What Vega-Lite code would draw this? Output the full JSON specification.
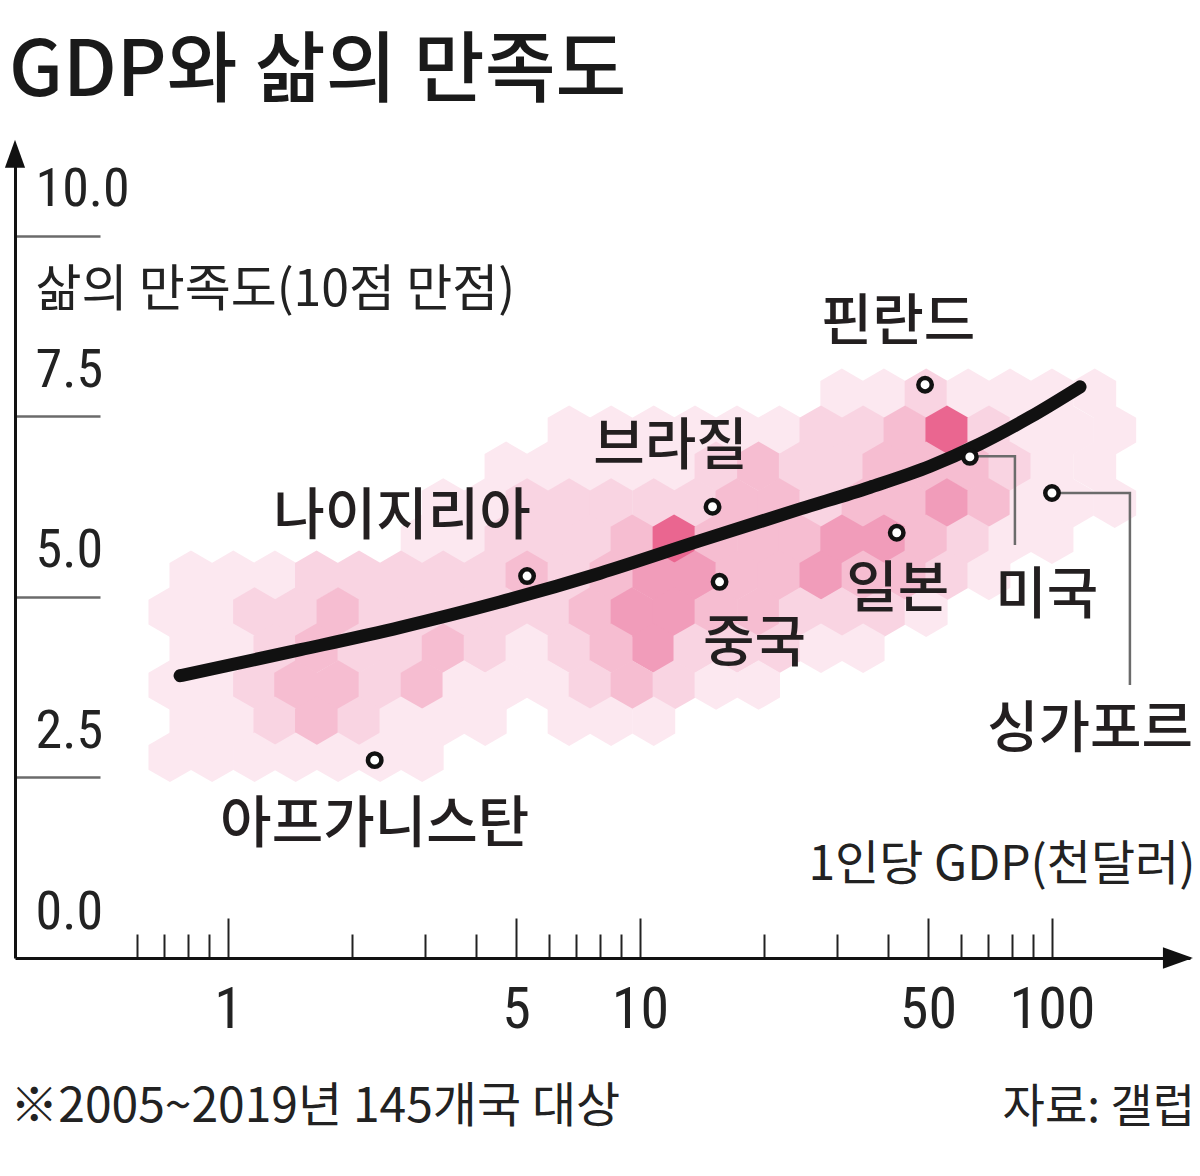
{
  "$schema": "https://vega.github.io/schema/vega-lite/v6.json",
  "width": 1175,
  "height": 813,
  "autosize": {"type": "none"},
  "padding": {"left": 15, "top": 145, "right": 10, "bottom": 218},
  "background": "white",
  "config": {"view": {"stroke": null}, "font": "Noto Sans CJK KR"},
  "title": {"text": "GDP와 삶의 만족도", "anchor": "start", "frame": "group", "fontSize": 77, "fontWeight": 500, "font": "Noto Sans CJK KR", "color": "#1a1a1a", "offset": 28, "dx": -6},
  "datasets": {
    "hex": [
      {"gdp":30.9,"satisfaction":7.82,"density":1},{"gdp":39.1,"satisfaction":7.82,"density":1},{"gdp":49.5,"satisfaction":7.82,"density":2},{"gdp":62.6,"satisfaction":7.82,"density":1},{"gdp":79.1,"satisfaction":7.82,"density":1},{"gdp":100,"satisfaction":7.82,"density":1},{"gdp":127,"satisfaction":7.82,"density":1},
      {"gdp":6.73,"satisfaction":7.31,"density":1},{"gdp":8.51,"satisfaction":7.31,"density":1},{"gdp":10.8,"satisfaction":7.31,"density":1},{"gdp":13.6,"satisfaction":7.31,"density":1},{"gdp":17.2,"satisfaction":7.31,"density":1},{"gdp":21.8,"satisfaction":7.31,"density":1},{"gdp":27.5,"satisfaction":7.31,"density":2},{"gdp":34.8,"satisfaction":7.31,"density":2},{"gdp":44.0,"satisfaction":7.31,"density":3},{"gdp":55.6,"satisfaction":7.31,"density":5},{"gdp":70.3,"satisfaction":7.31,"density":2},{"gdp":89.0,"satisfaction":7.31,"density":1},{"gdp":112,"satisfaction":7.31,"density":1},{"gdp":142,"satisfaction":7.31,"density":1},
      {"gdp":4.73,"satisfaction":6.81,"density":1},{"gdp":5.98,"satisfaction":6.81,"density":1},{"gdp":7.57,"satisfaction":6.81,"density":1},{"gdp":9.57,"satisfaction":6.81,"density":1},{"gdp":12.1,"satisfaction":6.81,"density":1},{"gdp":15.3,"satisfaction":6.81,"density":2},{"gdp":19.4,"satisfaction":6.81,"density":3},{"gdp":24.5,"satisfaction":6.81,"density":2},{"gdp":30.9,"satisfaction":6.81,"density":2},{"gdp":39.1,"satisfaction":6.81,"density":3},{"gdp":49.5,"satisfaction":6.81,"density":3},{"gdp":62.6,"satisfaction":6.81,"density":3},{"gdp":79.1,"satisfaction":6.81,"density":2},{"gdp":100,"satisfaction":6.81,"density":1},{"gdp":127,"satisfaction":6.81,"density":1},
      {"gdp":3.33,"satisfaction":6.30,"density":1},{"gdp":4.21,"satisfaction":6.30,"density":1},{"gdp":5.32,"satisfaction":6.30,"density":2},{"gdp":6.73,"satisfaction":6.30,"density":2},{"gdp":8.51,"satisfaction":6.30,"density":2},{"gdp":10.8,"satisfaction":6.30,"density":2},{"gdp":13.6,"satisfaction":6.30,"density":2},{"gdp":17.2,"satisfaction":6.30,"density":3},{"gdp":21.8,"satisfaction":6.30,"density":3},{"gdp":27.5,"satisfaction":6.30,"density":2},{"gdp":34.8,"satisfaction":6.30,"density":3},{"gdp":44.0,"satisfaction":6.30,"density":3},{"gdp":55.6,"satisfaction":6.30,"density":4},{"gdp":70.3,"satisfaction":6.30,"density":3},{"gdp":89.0,"satisfaction":6.30,"density":1},{"gdp":112,"satisfaction":6.30,"density":1},{"gdp":142,"satisfaction":6.30,"density":1},
      {"gdp":2.96,"satisfaction":5.80,"density":1},{"gdp":3.74,"satisfaction":5.80,"density":1},{"gdp":4.73,"satisfaction":5.80,"density":2},{"gdp":5.98,"satisfaction":5.80,"density":2},{"gdp":7.57,"satisfaction":5.80,"density":2},{"gdp":9.57,"satisfaction":5.80,"density":3},{"gdp":12.1,"satisfaction":5.80,"density":5},{"gdp":15.3,"satisfaction":5.80,"density":3},{"gdp":19.4,"satisfaction":5.80,"density":3},{"gdp":24.5,"satisfaction":5.80,"density":3},{"gdp":30.9,"satisfaction":5.80,"density":4},{"gdp":39.1,"satisfaction":5.80,"density":4},{"gdp":49.5,"satisfaction":5.80,"density":3},{"gdp":62.6,"satisfaction":5.80,"density":2},{"gdp":79.1,"satisfaction":5.80,"density":1},{"gdp":100,"satisfaction":5.80,"density":1},
      {"gdp":0.813,"satisfaction":5.30,"density":1},{"gdp":1.03,"satisfaction":5.30,"density":1},{"gdp":1.30,"satisfaction":5.30,"density":1},{"gdp":1.64,"satisfaction":5.30,"density":2},{"gdp":2.08,"satisfaction":5.30,"density":2},{"gdp":2.63,"satisfaction":5.30,"density":2},{"gdp":3.33,"satisfaction":5.30,"density":2},{"gdp":4.21,"satisfaction":5.30,"density":2},{"gdp":5.32,"satisfaction":5.30,"density":3},{"gdp":6.73,"satisfaction":5.30,"density":2},{"gdp":8.51,"satisfaction":5.30,"density":3},{"gdp":10.8,"satisfaction":5.30,"density":4},{"gdp":13.6,"satisfaction":5.30,"density":4},{"gdp":17.2,"satisfaction":5.30,"density":3},{"gdp":21.8,"satisfaction":5.30,"density":3},{"gdp":27.5,"satisfaction":5.30,"density":4},{"gdp":34.8,"satisfaction":5.30,"density":3},{"gdp":44.0,"satisfaction":5.30,"density":3},{"gdp":55.6,"satisfaction":5.30,"density":2},{"gdp":70.3,"satisfaction":5.30,"density":1},
      {"gdp":0.723,"satisfaction":4.79,"density":1},{"gdp":0.915,"satisfaction":4.79,"density":1},{"gdp":1.16,"satisfaction":4.79,"density":2},{"gdp":1.46,"satisfaction":4.79,"density":2},{"gdp":1.85,"satisfaction":4.79,"density":3},{"gdp":2.34,"satisfaction":4.79,"density":2},{"gdp":2.96,"satisfaction":4.79,"density":2},{"gdp":3.74,"satisfaction":4.79,"density":2},{"gdp":4.73,"satisfaction":4.79,"density":2},{"gdp":5.98,"satisfaction":4.79,"density":2},{"gdp":7.57,"satisfaction":4.79,"density":3},{"gdp":9.57,"satisfaction":4.79,"density":4},{"gdp":12.1,"satisfaction":4.79,"density":4},{"gdp":15.3,"satisfaction":4.79,"density":3},{"gdp":19.4,"satisfaction":4.79,"density":3},{"gdp":24.5,"satisfaction":4.79,"density":2},{"gdp":30.9,"satisfaction":4.79,"density":2},{"gdp":39.1,"satisfaction":4.79,"density":2},{"gdp":49.5,"satisfaction":4.79,"density":1},
      {"gdp":0.813,"satisfaction":4.29,"density":1},{"gdp":1.03,"satisfaction":4.29,"density":1},{"gdp":1.30,"satisfaction":4.29,"density":2},{"gdp":1.64,"satisfaction":4.29,"density":3},{"gdp":2.08,"satisfaction":4.29,"density":2},{"gdp":2.63,"satisfaction":4.29,"density":2},{"gdp":3.33,"satisfaction":4.29,"density":3},{"gdp":4.21,"satisfaction":4.29,"density":2},{"gdp":5.32,"satisfaction":4.29,"density":1},{"gdp":6.73,"satisfaction":4.29,"density":2},{"gdp":8.51,"satisfaction":4.29,"density":3},{"gdp":10.8,"satisfaction":4.29,"density":4},{"gdp":13.6,"satisfaction":4.29,"density":2},{"gdp":17.2,"satisfaction":4.29,"density":2},{"gdp":21.8,"satisfaction":4.29,"density":2},{"gdp":27.5,"satisfaction":4.29,"density":1},{"gdp":34.8,"satisfaction":4.29,"density":1},
      {"gdp":0.723,"satisfaction":3.78,"density":1},{"gdp":0.915,"satisfaction":3.78,"density":1},{"gdp":1.16,"satisfaction":3.78,"density":2},{"gdp":1.46,"satisfaction":3.78,"density":3},{"gdp":1.85,"satisfaction":3.78,"density":3},{"gdp":2.34,"satisfaction":3.78,"density":2},{"gdp":2.96,"satisfaction":3.78,"density":3},{"gdp":3.74,"satisfaction":3.78,"density":1},{"gdp":4.73,"satisfaction":3.78,"density":1},{"gdp":5.98,"satisfaction":3.78,"density":1},{"gdp":7.57,"satisfaction":3.78,"density":2},{"gdp":9.57,"satisfaction":3.78,"density":3},{"gdp":12.1,"satisfaction":3.78,"density":2},{"gdp":15.3,"satisfaction":3.78,"density":1},{"gdp":19.4,"satisfaction":3.78,"density":1},
      {"gdp":0.813,"satisfaction":3.28,"density":1},{"gdp":1.03,"satisfaction":3.28,"density":1},{"gdp":1.30,"satisfaction":3.28,"density":2},{"gdp":1.64,"satisfaction":3.28,"density":3},{"gdp":2.08,"satisfaction":3.28,"density":2},{"gdp":2.63,"satisfaction":3.28,"density":1},{"gdp":3.33,"satisfaction":3.28,"density":1},{"gdp":4.21,"satisfaction":3.28,"density":1},{"gdp":6.73,"satisfaction":3.28,"density":1},{"gdp":8.51,"satisfaction":3.28,"density":1},{"gdp":10.8,"satisfaction":3.28,"density":1},
      {"gdp":0.723,"satisfaction":2.78,"density":1},{"gdp":0.915,"satisfaction":2.78,"density":1},{"gdp":1.16,"satisfaction":2.78,"density":1},{"gdp":1.46,"satisfaction":2.78,"density":1},{"gdp":1.85,"satisfaction":2.78,"density":1},{"gdp":2.34,"satisfaction":2.78,"density":1},{"gdp":2.96,"satisfaction":2.78,"density":1}
    ],
    "trend": [
      {"gdp":0.765,"satisfaction":3.91},{"gdp":1.50,"satisfaction":4.27},{"gdp":2.62,"satisfaction":4.58},{"gdp":4.57,"satisfaction":4.93},{"gdp":8.0,"satisfaction":5.33},{"gdp":14.0,"satisfaction":5.78},{"gdp":24.5,"satisfaction":6.22},{"gdp":36.2,"satisfaction":6.52},{"gdp":50.6,"satisfaction":6.81},{"gdp":66.9,"satisfaction":7.12},{"gdp":88.4,"satisfaction":7.49},{"gdp":117,"satisfaction":7.91}
    ],
    "countries": [
      {"country":"아프가니스탄","gdp":2.27,"satisfaction":2.74},
      {"country":"나이지리아","gdp":5.32,"satisfaction":5.29},
      {"country":"브라질","gdp":15.0,"satisfaction":6.25},
      {"country":"중국","gdp":15.6,"satisfaction":5.21},
      {"country":"일본","gdp":42.0,"satisfaction":5.89},
      {"country":"핀란드","gdp":49.2,"satisfaction":7.94},
      {"country":"미국","gdp":63.2,"satisfaction":6.94},
      {"country":"싱가포르","gdp":100,"satisfaction":6.44}
    ],
    "leaders": [
      {"country":"미국","seq":1,"gdp":63.2,"satisfaction":6.95},
      {"country":"미국","seq":2,"gdp":81.3,"satisfaction":6.95},
      {"country":"미국","seq":3,"gdp":81.3,"satisfaction":5.72},
      {"country":"싱가포르","seq":1,"gdp":100,"satisfaction":6.44},
      {"country":"싱가포르","seq":2,"gdp":154.6,"satisfaction":6.44},
      {"country":"싱가포르","seq":3,"gdp":154.6,"satisfaction":3.78}
    ],
    "arrows": [
      {"axis":"y","gdp":0.30407,"satisfaction":11.14},
      {"axis":"x","gdp":202.2,"satisfaction":0}
    ],
    "notes": [
      {"side":"left","note":"※2005~2019년 145개국 대상","gdp":0.2961,"satisfaction":-2.08},
      {"side":"right","note":"자료: 갤럽","gdp":222.4,"satisfaction":-2.08}
    ]
  },
  "encoding": {
    "x": {
      "field": "gdp", "type": "quantitative",
      "scale": {"type": "log", "domain": [0.30407, 216.3], "nice": false},
      "axis": {
        "title": "1인당 GDP(천달러)", "titleX": 1180, "titleY": -93, "titleAlign": "right", "titleBaseline": "middle", "titleAnchor": null,
        "titleFontSize": 48, "titleFontWeight": "normal", "titleFont": "Noto Sans CJK KR", "titleColor": "#222",
        "values": [0.6,0.7,0.8,0.9,1,2,3,4,5,6,7,8,9,10,20,30,40,50,60,70,80,90,100],
        "labelExpr": "indexof([1,5,10,50,100], datum.value) >= 0 ? datum.label : ''",
        "format": "d",
        "tickSize": {"condition": {"test": "indexof([1,5,10,50,100], datum.value) >= 0", "value": -40}, "value": -24},
        "tickColor": "#222", "tickWidth": 2,
        "domainColor": "#111", "domainWidth": 3,
        "labelFont": "Roboto Condensed, DejaVu Sans Condensed, Roboto, sans-serif", "labelFontSize": 58, "labelColor": "#222",
        "labelPadding": 92, "labelBaseline": "middle",
        "labelOverlap": false, "labelFlush": false, "labelBound": false,
        "grid": false
      }
    },
    "y": {
      "field": "satisfaction", "type": "quantitative",
      "scale": {"domain": [0, 11.26], "nice": false, "zero": false},
      "axis": {
        "title": "삶의 만족도(10점 만점)", "titleAngle": 0, "titleAlign": "left", "titleBaseline": "middle", "titleX": 20, "titleY": 145, "titleAnchor": null,
        "titleFontSize": 50, "titleFontWeight": "normal", "titleFont": "Noto Sans CJK KR", "titleColor": "#222",
        "values": [0, 2.5, 5, 7.5, 10], "format": ".1f",
        "tickSize": -85, "tickColor": "#6b6b6b", "tickWidth": 2.5,
        "tickOpacity": {"condition": {"test": "datum.value == 0", "value": 0}, "value": 1},
        "domainColor": "#111", "domainWidth": 3,
        "labelFont": "Roboto Condensed, DejaVu Sans Condensed, Roboto, sans-serif", "labelFontSize": 54, "labelColor": "#222",
        "labelAlign": "left", "labelBaseline": "middle", "labelPadding": 65, "labelOffset": -46,
        "labelOverlap": false, "labelFlush": false, "labelBound": false,
        "grid": false
      }
    }
  },
  "layer": [
    {
      "data": {"name": "hex"},
      "mark": {"type": "point", "shape": "M0,-1L0.866,-0.5L0.866,0.5L0,1L-0.866,0.5L-0.866,-0.5Z", "filled": true, "size": 2460, "opacity": 1},
      "encoding": {
        "color": {"field": "density", "type": "ordinal", "scale": {"domain": [1,2,3,4,5], "range": ["#fce8f0", "#f9d4e2", "#f6bdd1", "#f19cba", "#ea6690"]}, "legend": null}
      }
    },
    {
      "data": {"name": "trend"},
      "mark": {"type": "line", "color": "#111", "strokeWidth": 13, "strokeCap": "round", "interpolate": "monotone"},
      "encoding": {}
    },
    {
      "data": {"name": "leaders"},
      "mark": {"type": "line", "color": "#6b6b6b", "strokeWidth": 2.5},
      "encoding": {"detail": {"field": "country"}, "order": {"field": "seq"}}
    },
    {
      "data": {"name": "countries"},
      "mark": {"type": "point", "shape": "circle", "filled": true, "fill": "white", "stroke": "#111", "strokeWidth": 4.5, "size": 180, "opacity": 1}
    },
    {"data": {"name": "countries"}, "transform": [{"filter": "datum.country == '아프가니스탄'"}], "mark": {"type": "text", "fontSize": 56, "fontWeight": 500, "color": "#231f20", "baseline": "middle", "align": "center", "dx": 0, "dy": 65}, "encoding": {"text": {"field": "country"}}},
    {"data": {"name": "countries"}, "transform": [{"filter": "datum.country == '나이지리아'"}], "mark": {"type": "text", "fontSize": 56, "fontWeight": 500, "color": "#231f20", "baseline": "middle", "align": "center", "dx": -125, "dy": -59}, "encoding": {"text": {"field": "country"}}},
    {"data": {"name": "countries"}, "transform": [{"filter": "datum.country == '브라질'"}], "mark": {"type": "text", "fontSize": 56, "fontWeight": 500, "color": "#231f20", "baseline": "middle", "align": "center", "dx": -42, "dy": -60}, "encoding": {"text": {"field": "country"}}},
    {"data": {"name": "countries"}, "transform": [{"filter": "datum.country == '중국'"}], "mark": {"type": "text", "fontSize": 56, "fontWeight": 500, "color": "#231f20", "baseline": "middle", "align": "center", "dx": 35, "dy": 62}, "encoding": {"text": {"field": "country"}}},
    {"data": {"name": "countries"}, "transform": [{"filter": "datum.country == '일본'"}], "mark": {"type": "text", "fontSize": 56, "fontWeight": 500, "color": "#231f20", "baseline": "middle", "align": "center", "dx": 1, "dy": 57}, "encoding": {"text": {"field": "country"}}},
    {"data": {"name": "countries"}, "transform": [{"filter": "datum.country == '핀란드'"}], "mark": {"type": "text", "fontSize": 56, "fontWeight": 500, "color": "#231f20", "baseline": "middle", "align": "center", "dx": -27, "dy": -62}, "encoding": {"text": {"field": "country"}}},
    {"data": {"name": "countries"}, "transform": [{"filter": "datum.country == '미국'"}], "mark": {"type": "text", "fontSize": 56, "fontWeight": 500, "color": "#231f20", "baseline": "middle", "align": "center", "dx": 77, "dy": 139}, "encoding": {"text": {"field": "country"}}},
    {"data": {"name": "countries"}, "transform": [{"filter": "datum.country == '싱가포르'"}], "mark": {"type": "text", "fontSize": 56, "fontWeight": 500, "color": "#231f20", "baseline": "middle", "align": "center", "dx": 38, "dy": 237}, "encoding": {"text": {"field": "country"}}},
    {
      "data": {"name": "arrows"},
      "transform": [{"filter": "datum.axis == 'y'"}],
      "mark": {"type": "point", "shape": "M0,-1L0.72,1L-0.72,1Z", "filled": true, "color": "#111", "size": 784, "opacity": 1}
    },
    {
      "data": {"name": "arrows"},
      "transform": [{"filter": "datum.axis == 'x'"}],
      "mark": {"type": "point", "shape": "M1,0L-1,0.72L-1,-0.72Z", "filled": true, "color": "#111", "size": 900, "opacity": 1}
    },
    {
      "data": {"name": "notes"},
      "transform": [{"filter": "datum.side == 'left'"}],
      "mark": {"type": "text", "align": "left", "baseline": "middle", "fontSize": 48, "color": "#222"},
      "encoding": {"text": {"field": "note"}}
    },
    {
      "data": {"name": "notes"},
      "transform": [{"filter": "datum.side == 'right'"}],
      "mark": {"type": "text", "align": "right", "baseline": "middle", "fontSize": 46, "color": "#222"},
      "encoding": {"text": {"field": "note"}}
    }
  ]
}
